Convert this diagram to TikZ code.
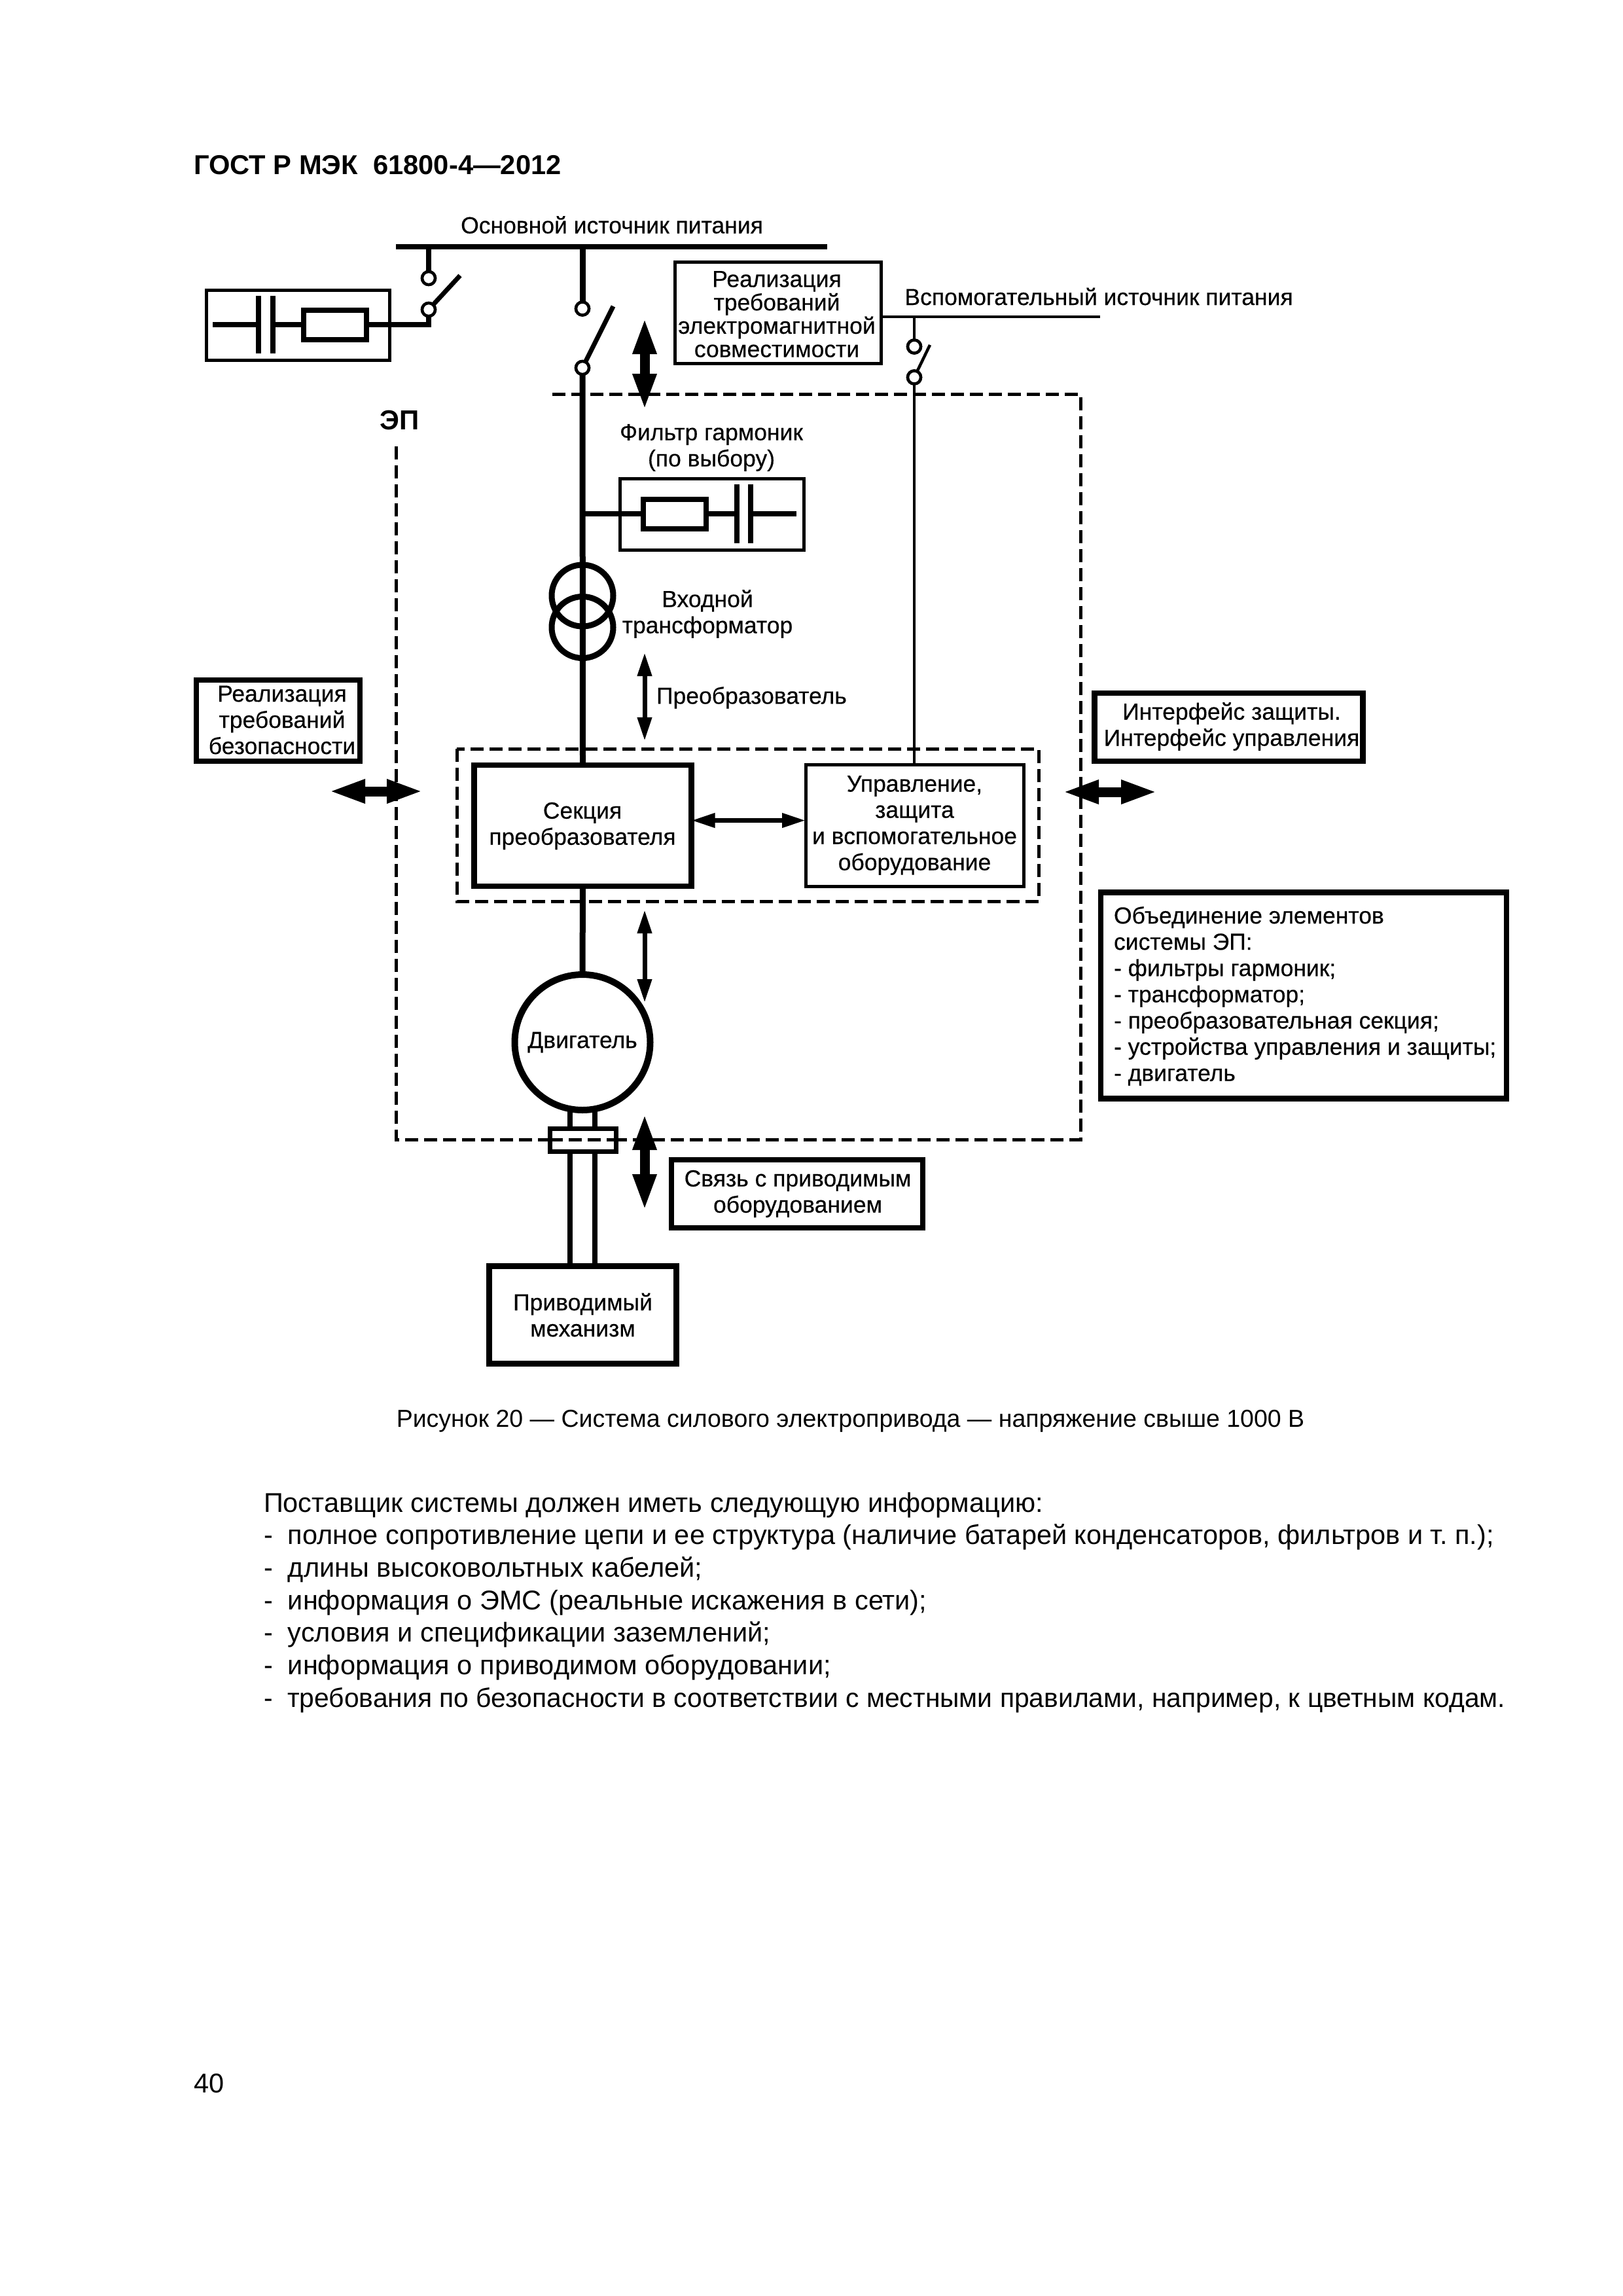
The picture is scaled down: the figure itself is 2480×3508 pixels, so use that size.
\documentclass[tikz,border=0pt]{standalone}
\usepackage{fontspec}
\setmainfont{Liberation Sans}
\newfontfamily\dgm[FakeBold=0.35]{Liberation Sans}
\usetikzlibrary{arrows.meta,calc}
\newcommand{\sz}{\dgm\fontsize{35.5}{40}\selectfont}
\newcommand{\szb}{\fontsize{41.5}{48}\selectfont}
\tikzset{
  lbl/.style={inner sep=0pt,outer sep=0pt,align=center,font=\sz},
  bodytxt/.style={inner sep=0pt,outer sep=0pt,anchor=base west,font=\szb},
  heavy/.style={line width=9pt},
  wire/.style={line width=8pt},
  thinwire/.style={line width=4.5pt},
  boxthin/.style={draw,line width=5pt,inner sep=0pt,outer sep=0pt},
  boxthick/.style={draw,line width=8.5pt,inner sep=0pt,outer sep=0pt,fill=white},
  contact/.style={circle,draw,fill=white,line width=4.5pt,minimum size=20pt,inner sep=0pt,outer sep=0pt},
  dashbox/.style={line width=5pt,dash pattern=on 20pt off 9pt},
  bigarrow/.style={line width=15pt,{Triangle[length=56pt,width=33pt]}-{Triangle[length=56pt,width=33pt]}},
  smallarrow/.style={line width=7pt,{Triangle[length=36pt,width=21pt]}-{Triangle[length=36pt,width=21pt]}},
}
\begin{document}
\begin{tikzpicture}[x=1pt,y=-1pt]
\useasboundingbox (0,0) rectangle (2480,3508);
\fill[white] (0,0) rectangle (2480,3508);
% header
\node[inner sep=0,anchor=base west,font=\fontsize{41.7}{48}\bfseries\selectfont] (hdr) at (296,267) {ГОСТ Р МЭК\ \ 61800-4—2012};
% main bus
\coordinate (busL) at (605,377);
\coordinate (busR) at (1264,377);
\draw[wire] (busL) -- (busR);
\node[lbl] (busT) at (935,343.5) {Основной источник питания};
% left capacitor branch
\node[boxthin,minimum width=280pt,minimum height=107pt] (lbox) at (455,496.5) {};
\coordinate (lbusj) at (655,377);
\node[contact] (lc1) at (655,425) {};
\node[contact] (lc2) at (655,473) {};
\coordinate (lbend) at (655,496);
\coordinate (lend) at (325,496);
\coordinate (lblade) at (703,421);
\coordinate (lcap1) at (395,496);
\coordinate (lcap2) at (416.5,496);
\draw[wire] (lbusj) -- (lc1);
\draw[line width=7pt] (lc2) -- (lblade);
\draw[wire] (lc2) -- (lbend) -- (lcap2);
\draw[wire] (lcap1) -- (lend);
\node[contact] at (lc1) {};
\node[contact] at (lc2) {};
\draw[wire] ($(lcap1)+(0,-44)$) -- ($(lcap1)+(0,44)$);
\draw[wire] ($(lcap2)+(0,-44)$) -- ($(lcap2)+(0,44)$);
\node[draw,line width=8pt,fill=white,inner sep=0,minimum width=96pt,minimum height=45pt] (lres) at (512,496.5) {};
% section box and main line
\node[boxthick,minimum width=332pt,minimum height=185pt] (conv) at (890.5,1261.5) {};
\node[lbl] (convT) at (890,1262) {Секция\\преобразователя};
\node[contact] (mc1) at (890,471.5) {};
\node[contact] (mc2) at (890,562) {};
\coordinate (mbus) at (890,377);
\coordinate (mblade) at (937,468);
\draw[heavy] (mbus) -- (mc1);
\draw[line width=7pt] (mc2) -- (mblade);
\draw[heavy] (mc2) -- (conv.north);
\node[contact] at (mc1) {};
\node[contact] at (mc2) {};
% big dashed outline
\coordinate (d1) at (605,682);
\coordinate (d2) at (605,1741);
\coordinate (d3) at (1651,1741);
\coordinate (d4) at (1651,602);
\coordinate (d5) at (840,602);
\draw[dashbox] (d1) -- (d2) -- (d3) -- (d4) -- (d5);
\node[font=\fontsize{42}{44}\bfseries\selectfont,inner sep=0] (ep) at (611,642) {ЭП};
% EMC box
\node[draw,line width=4.5pt,inner sep=0,minimum width=315pt,minimum height=155pt] (emc) at (1189,478) {};
\node[lbl,font=\dgm\fontsize{35.5}{35.7}\selectfont] (emcT) at (1187,480) {Реализация\\требований\\электромагнитной\\совместимости};
% Aux supply
\coordinate (auxR) at (1681,484);
\draw[thinwire] (emc.east |- auxR) -- (auxR);
\node[lbl] (auxT) at (1679,453) {Вспомогательный источник питания};
\coordinate (auxj) at (1397,484);
\node[contact] (ac1) at (1397,529.5) {};
\node[contact] (ac2) at (1397,576.5) {};
\coordinate (ablade) at (1421,527);
\node[lbl,draw,line width=5pt,minimum width=333pt,minimum height=186pt] (ctrl) at (1397.5,1261) {Управление,\\защита\\и вспомогательное\\оборудование};
\draw[thinwire] (auxj) -- (ac1);
\draw[thinwire] (ac2) -- (ablade);
\draw[thinwire] (ac2) -- (ctrl.north -| ac2);
\node[contact] at (ac1) {};
\node[contact] at (ac2) {};
% arrow EMC
\coordinate (aa1) at (985,485); \coordinate (aa2) at (985,627);
\draw[bigarrow] (aa1) -- (aa2);
% Filter
\node[lbl] (fT) at (1087,684) {Фильтр гармоник\\(по выбору)};
\node[boxthin,minimum width=281pt,minimum height=109pt] (fbox) at (1087.5,785.5) {};
\coordinate (fj) at (890,785);
\coordinate (fend) at (1217,785);
\coordinate (fc1) at (1126,785);
\coordinate (fc2) at (1147,785);
\draw[wire] (fj) -- (fc1);
\draw[wire] (fc2) -- (fend);
\node[draw,line width=8pt,fill=white,inner sep=0,minimum width=96pt,minimum height=45pt] (fres) at (1031,785.5) {};
\draw[wire] ($(fc1)+(0,-45)$) -- ($(fc1)+(0,45)$);
\draw[wire] ($(fc2)+(0,-45)$) -- ($(fc2)+(0,45)$);
% Transformer
\node[circle,draw,line width=9pt,minimum size=94pt,inner sep=0] (t1) at (890,910) {};
\node[circle,draw,line width=9pt,minimum size=94pt,inner sep=0] (t2) at (890,958.5) {};
\node[lbl] (tT) at (1081,938) {Входной\\трансформатор};
% Arrow converter
\coordinate (ca1) at (985,997); \coordinate (ca2) at (985,1132);
\draw[smallarrow] (ca1) -- (ca2);
\node[lbl,anchor=west] (cT) at (1003,1066) {Преобразователь};
% inner dashed
\coordinate (in1) at (698,1144); \coordinate (in2) at (1587,1377.5);
\draw[dashbox] (in1) rectangle (in2);
% section to control arrow
\coordinate (sec) at (1150,1253.5);
\draw[smallarrow] (conv.east |- sec) -- (ctrl.west |- sec);
% Motor
\node[circle,draw,line width=10pt,minimum size=207pt,inner sep=0,lbl] (mot) at (890,1592.5) {Двигатель};
\draw[heavy] (conv.south) -- (mot.north);
\coordinate (ma1) at (985,1390); \coordinate (ma2) at (985,1532);
\draw[smallarrow] (ma1) -- (ma2);
% Mechanism, shaft, coupling
\node[boxthick,lbl,draw,line width=8.5pt,minimum width=286pt,minimum height=149pt] (mech) at (890.5,2009) {Приводимый\\механизм};
\coordinate (sh1a) at (871,1697); \coordinate (sh2a) at (909,1697);
\draw[wire] (sh1a) -- (sh1a |- mech.north);
\draw[wire] (sh2a) -- (sh2a |- mech.north);
\node[draw,line width=7pt,fill=white,minimum width=101pt,minimum height=35pt,inner sep=0] (coup) at (891,1741.5) {};
\coordinate (cp1) at (840,1741); \coordinate (cp2) at (942,1741);
\draw[dashbox] (cp1) -- (cp2);
% Arrow driven
\coordinate (da1) at (985,1701); \coordinate (da2) at (985,1850);
\draw[bigarrow] (da1) -- (da2);
\node[boxthick,minimum width=384pt,minimum height=104pt] (drv) at (1218,1824) {};
\node[lbl] (drvT) at (1219,1824) {Связь с приводимым\\оборудованием};
% Safety
\node[boxthick,minimum width=250pt,minimum height=124pt] (saf) at (425,1101) {};
\node[lbl] (safT) at (431,1100) {Реализация\\требований\\безопасности};
\coordinate (sa1) at (502,1209); \coordinate (sa2) at (647,1209);
\draw[bigarrow] (sa1) -- (sa2);
% Interface
\node[boxthick,minimum width=410pt,minimum height=104pt] (ifc) at (1877.5,1111) {};
\node[lbl] (ifcT) at (1882,1110) {Интерфейс защиты.\\Интерфейс управления};
\coordinate (ia1) at (1623,1210); \coordinate (ia2) at (1769,1210);
\draw[bigarrow] (ia1) -- (ia2);
% Integration
\node[boxthick,minimum width=620pt,minimum height=315pt] (intg) at (1992,1521) {};
\node[lbl,align=left,anchor=north west,font=\dgm\fontsize{35.5}{40.1}\selectfont] (intT) at (1702,1385) {Объединение элементов\\системы ЭП:\\- фильтры гармоник;\\- трансформатор;\\- преобразовательная секция;\\- устройства управления и защиты;\\- двигатель};
% Caption and body
\node[inner sep=0,anchor=base,font=\fontsize{37.5}{44}\selectfont] (cap) at (1299.5,2180) {Рисунок 20 — Система силового электропривода — напряжение свыше 1000 В};
\node[bodytxt] (b1) at (403,2310) {Поставщик системы должен иметь следующую информацию:};
\node[bodytxt] (b2) at (403,2359.5) {-\ \ полное сопротивление цепи и ее структура (наличие батарей конденсаторов, фильтров и т.~п.);};
\node[bodytxt] (b3) at (403,2409.5) {-\ \ длины высоковольтных кабелей;};
\node[bodytxt] (b4) at (403,2459) {-\ \ информация о ЭМС (реальные искажения в сети);};
\node[bodytxt] (b5) at (403,2508.5) {-\ \ условия и спецификации заземлений;};
\node[bodytxt] (b6) at (403,2558) {-\ \ информация о приводимом оборудовании;};
\node[bodytxt,font=\fontsize{40.8}{48}\selectfont] (b7) at (403,2608) {-\ \ требования по безопасности в соответствии с местными правилами, например, к цветным кодам.};
\node[bodytxt] (pg) at (296,3197) {40};
\end{tikzpicture}
\end{document}
